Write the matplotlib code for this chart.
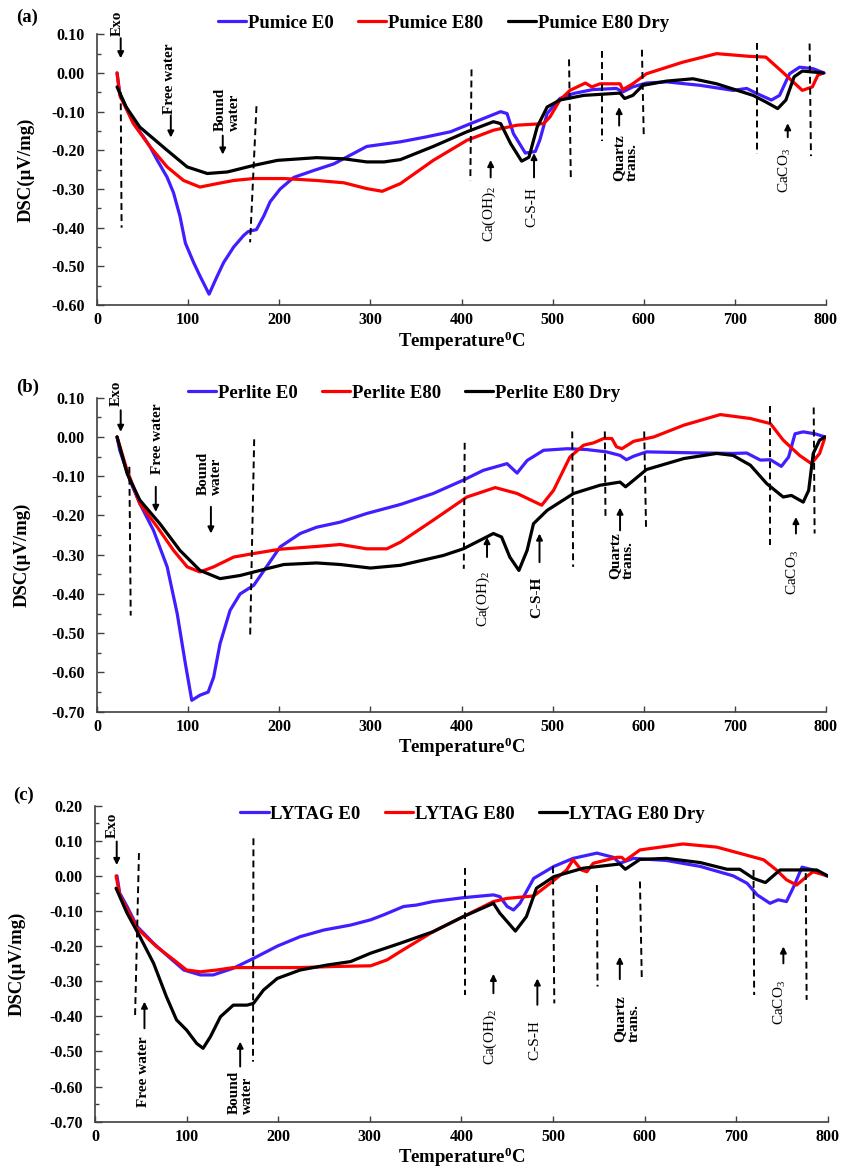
import matplotlib
matplotlib.use("Agg")
import matplotlib.pyplot as plt
from matplotlib.ticker import MultipleLocator

plt.rcParams['font.family'] = ['Liberation Serif', 'DejaVu Serif']
plt.rcParams['font.weight'] = 'bold'
plt.rcParams['mathtext.fontset'] = 'custom'
plt.rcParams['mathtext.rm'] = 'Liberation Serif'
plt.rcParams['mathtext.bf'] = 'Liberation Serif:bold'
plt.rcParams['mathtext.it'] = 'Liberation Serif:italic'

BLUE = '#3F1FFF'
RED = '#FF0000'
BLACK = '#000000'

# ---------------- (a) Pumice ----------------
pumice_E0_T = [22, 25, 40, 51, 58, 66, 77, 84, 91, 97, 106, 113, 123, 131, 139, 150, 161, 166, 175, 183,
               190, 201, 216, 238, 260, 296, 333, 362, 388, 410, 443, 450, 457, 470, 481, 486, 494, 508, 523, 544,
               570, 577, 588, 603, 625, 662, 698, 713, 724, 740, 749, 760, 771, 786, 798]
pumice_E0 = [0, -0.053, -0.13, -0.165, -0.19, -0.225, -0.27, -0.31, -0.37, -0.44, -0.49, -0.525, -0.572, -0.53, -0.49,
             -0.45, -0.42, -0.41, -0.405, -0.37, -0.333, -0.30, -0.27, -0.252, -0.235, -0.19, -0.178, -0.165, -0.152,
             -0.131, -0.10, -0.105, -0.157, -0.207, -0.203, -0.173, -0.105, -0.066, -0.053, -0.043, -0.04, -0.049,
             -0.036, -0.026, -0.023, -0.032, -0.045, -0.04, -0.053, -0.07, -0.058, -0.002, 0.015, 0.011, 0]
pumice_E80_T = [22, 25, 40, 58, 77, 95, 113, 132, 150, 172, 205, 241, 271, 296, 313, 333, 369, 406, 435, 461,
                490, 497, 508, 519, 536, 543, 552, 574, 577, 588, 603, 643, 680, 716, 734, 752, 774, 785, 791, 797]
pumice_E80 = [0, -0.058, -0.131, -0.19, -0.243, -0.278, -0.295, -0.286, -0.278, -0.273, -0.273, -0.278, -0.284,
              -0.299, -0.306, -0.286, -0.226, -0.174, -0.148, -0.135, -0.131, -0.114, -0.07, -0.045, -0.026, -0.036,
              -0.028, -0.028, -0.043, -0.028, -0.002, 0.028, 0.05, 0.043, 0.041, 0.003, -0.045, -0.036, -0.006, 0]
pumice_E80dry_T = [22, 32, 47, 77, 99, 121, 143, 172, 198, 241, 271, 296, 315, 333, 369, 406, 435, 443, 454, 466,
                   474, 483, 494, 508, 534, 574, 579, 588, 599, 625, 654, 680, 720, 734, 747, 756, 765, 774, 797]
pumice_E80dry = [-0.036, -0.088, -0.14, -0.2, -0.243, -0.26, -0.256, -0.239, -0.226, -0.219, -0.222, -0.23, -0.23,
                 -0.224, -0.19, -0.152, -0.126, -0.131, -0.183, -0.228, -0.218, -0.14, -0.088, -0.07, -0.058, -0.052,
                 -0.066, -0.058, -0.032, -0.021, -0.015, -0.028, -0.058, -0.075, -0.092, -0.07, -0.01, 0.005, 0]

# ---------------- (b) Perlite ----------------
perlite_E0_T = [22, 25, 36, 47, 62, 77, 88, 97, 104, 113, 122, 128, 135, 146, 157, 172, 186, 201, 223, 241,
                267, 296, 333, 369, 402, 424, 450, 461, 472, 490, 516, 537, 559, 574, 581, 589, 603, 644, 698, 713,
                728, 739, 751, 759, 766, 775, 788, 799]
perlite_E0 = [0, -0.034, -0.11, -0.17, -0.238, -0.331, -0.45, -0.578, -0.671, -0.658, -0.65, -0.612, -0.527, -0.442,
              -0.40, -0.378, -0.331, -0.28, -0.246, -0.23, -0.217, -0.195, -0.172, -0.144, -0.11, -0.085, -0.068,
              -0.092, -0.06, -0.034, -0.03, -0.032, -0.038, -0.047, -0.058, -0.049, -0.038, -0.04, -0.042, -0.041,
              -0.059, -0.058, -0.075, -0.051, 0.008, 0.013, 0.008, 0]
perlite_E80_T = [22, 33, 47, 66, 84, 99, 113, 128, 150, 172, 201, 241, 267, 296, 318, 333, 369, 406, 437, 461,
                 488, 501, 519, 534, 545, 556, 565, 570, 576, 589, 611, 644, 684, 717, 739, 753, 771, 784, 793, 799]
perlite_E80 = [0, -0.085, -0.17, -0.229, -0.289, -0.331, -0.344, -0.331, -0.306, -0.297, -0.286, -0.279, -0.274,
               -0.285, -0.285, -0.268, -0.212, -0.153, -0.129, -0.144, -0.174, -0.136, -0.051, -0.021, -0.015, -0.004,
               -0.004, -0.025, -0.03, -0.011, 0, 0.03, 0.057, 0.047, 0.034, -0.008, -0.047, -0.068, -0.042, 0]
perlite_E80dry_T = [22, 33, 47, 69, 91, 113, 135, 157, 179, 205, 241, 267, 300, 333, 380, 402, 435, 444, 453, 463,
                    472, 479, 494, 523, 552, 574, 580, 589, 603, 644, 680, 698, 717, 735, 753, 762, 775, 781, 786, 793,
                    799]
perlite_E80dry = [0, -0.093, -0.161, -0.221, -0.289, -0.34, -0.361, -0.353, -0.34, -0.325, -0.321, -0.325, -0.334,
                  -0.327, -0.302, -0.285, -0.246, -0.255, -0.306, -0.34, -0.289, -0.221, -0.187, -0.144, -0.123,
                  -0.115, -0.127, -0.11, -0.083, -0.055, -0.042, -0.047, -0.072, -0.119, -0.153, -0.149, -0.166,
                  -0.136, -0.042, -0.008, 0]

# ---------------- (c) LYTAG ----------------
lytag_E0_T = [24, 27, 35, 46, 64, 78, 97, 115, 129, 151, 173, 199, 224, 250, 279, 301, 315, 337, 351, 369,
              402, 435, 442, 450, 457, 464, 479, 501, 522, 548, 566, 573, 588, 624, 661, 697, 712, 723, 737, 746,
              755, 763, 772, 784, 799]
lytag_E0 = [0, -0.049, -0.087, -0.144, -0.192, -0.225, -0.268, -0.282, -0.282, -0.263, -0.235, -0.2, -0.173, -0.154,
            -0.14, -0.125, -0.111, -0.087, -0.083, -0.073, -0.062, -0.054, -0.059, -0.087, -0.097, -0.078, -0.007,
            0.027, 0.05, 0.065, 0.053, 0.036, 0.05, 0.044, 0.027, 0, -0.021, -0.054, -0.078, -0.068, -0.073, -0.03,
            0.025, 0.017, 0]
lytag_E80_T = [23, 27, 46, 67, 86, 100, 115, 133, 151, 188, 224, 261, 301, 319, 333, 369, 402, 435, 450, 479,
               497, 515, 522, 531, 537, 544, 570, 575, 579, 595, 642, 679, 730, 744, 755, 766, 777, 784, 800]
lytag_E80 = [0, -0.054, -0.149, -0.201, -0.239, -0.268, -0.273, -0.268, -0.261, -0.261, -0.261, -0.258, -0.256,
             -0.239, -0.216, -0.159, -0.116, -0.073, -0.064, -0.057, -0.021, 0.017, 0.046, 0.017, 0.012, 0.036, 0.053,
             0.053, 0.044, 0.074, 0.091, 0.082, 0.046, 0.017, -0.011, -0.026, -0.002, 0.012, 0]
lytag_E80dry_T = [23, 35, 49, 64, 78, 89, 100, 111, 118, 126, 137, 151, 166, 173, 184, 199, 224, 253, 279, 301,
                  333, 369, 402, 435, 442, 459, 471, 482, 501, 533, 573, 579, 595, 624, 661, 690, 704, 719, 732, 748,
                  788, 800]
lytag_E80dry = [-0.035, -0.106, -0.173, -0.249, -0.344, -0.41, -0.439, -0.477, -0.491, -0.458, -0.401, -0.368,
                -0.368, -0.363, -0.325, -0.292, -0.268, -0.254, -0.244, -0.22, -0.192, -0.159, -0.116, -0.078, -0.106,
                -0.157, -0.116, -0.035, -0.002, 0.022, 0.034, 0.019, 0.047, 0.05, 0.038, 0.019, 0.019, -0.007, -0.019,
                0.017, 0.017, 0]

labels_a = ['Pumice E0', 'Pumice E80', 'Pumice E80 Dry']
labels_b = ['Perlite E0', 'Perlite E80', 'Perlite E80 Dry']
labels_c = ['LYTAG E0', 'LYTAG E80', 'LYTAG E80 Dry']

# dashed guide lines: ((T0, v0), (T1, v1))
dashes_a = [((26, -0.05), (27, -0.40)), ((175, -0.086), (168, -0.438)), ((411, 0.009), (409.7, -0.278)),
            ((518, 0.035), (520, -0.278)), ((553.7, 0.057), (553.7, -0.175)), ((598, 0.06), (600, -0.162)),
            ((724.5, 0.078), (724.5, -0.21)), ((782, 0.076), (783.5, -0.215))]
dashes_b = [((35.5, -0.076), (37, -0.455)), ((172.5, -0.006), (168, -0.514)), ((403.5, -0.015), (402.5, -0.336)),
            ((521.5, 0.014), (522.5, -0.331)), ((557.3, 0.014), (558, -0.204)), ((600.5, 0.014), (602.5, -0.229)),
            ((738, 0.078), (738, -0.276)), ((786.5, 0.075), (787.5, -0.246))]
dashes_c = [((48, 0.065), (43.7, -0.405)), ((173, 0.107), (172.5, -0.529)), ((404, 0.022), (404, -0.339)),
            ((500, 0.027), (501.5, -0.363)), ((548, -0.026), (548.7, -0.315)), ((595, -0.016), (597, -0.292)),
            ((719, 0.017), (719.7, -0.339)), ((776, 0.008), (777, -0.353))]

# annotations: (text, T, v, bold, arrow tail (T, v), arrow head (T, v))
CAOH = r'Ca(OH)$_\mathregular{2}$'
CACO = r'CaCO$_\mathregular{3}$'
notes_a = [('Exo', 22, 0.128, True, (26, 0.09), (26, 0.038)),
           ('Free water', 80, -0.016, True, (81, -0.11), (81, -0.167)),
           ('Bound\nwater', 143, -0.094, True, (138, -0.162), (138, -0.211)),
           (CAOH, 430, -0.364, False, (432, -0.27), (432, -0.225)),
           ('C-S-H', 477, -0.346, False, (479.6, -0.27), (479.6, -0.207)),
           ('Quartz\ntrans.', 580.5, -0.218, True, (573, -0.136), (573, -0.088)),
           (CACO, 754.5, -0.252, False, (758, -0.166), (758, -0.13))]
notes_b = [('Exo', 21.6, 0.112, True, (26, 0.068), (26, 0.013)),
           ('Free water', 66.7, -0.005, True, (64.5, -0.127), (64.5, -0.191)),
           ('Bound\nwater', 124, -0.092, True, (125, -0.178), (125, -0.246)),
           (CAOH, 424, -0.412, False, (428, -0.306), (428, -0.255)),
           ('C-S-H', 482.6, -0.408, True, (485.6, -0.319), (485.6, -0.246)),
           ('Quartz\ntrans.', 576, -0.302, True, (574, -0.238), (574, -0.18)),
           (CACO, 764, -0.344, False, (767, -0.246), (767, -0.204))]
notes_c = [('Exo', 19.3, 0.145, True, (23.7, 0.098), (23.7, 0.031)),
           ('Free water', 52.8, -0.557, True, (54, -0.434), (54, -0.358)),
           ('Bound\nwater', 159.6, -0.617, True, (158.5, -0.543), (158.5, -0.472)),
           (CAOH, 432, -0.46, False, (435, -0.334), (435, -0.279)),
           ('C-S-H', 480.4, -0.468, False, (483, -0.367), (483, -0.292)),
           ('Quartz\ntrans.', 581, -0.406, True, (573, -0.294), (573, -0.23)),
           (CACO, 748, -0.36, False, (751.6, -0.249), (751.6, -0.201))]

W, H = 842, 1171
fig = plt.figure(figsize=(W / 100, H / 100), dpi=100)


def px_axes(left, top, right, bottom):
    return fig.add_axes([left / W, 1 - bottom / H, (right - left) / W, (bottom - top) / H])


def draw(ax, series, labels, ylim, yticks, dash_list, notes, leg_xy, ylab_x):
    lines = []
    for (T, V), color, lab in zip(series, [BLUE, RED, BLACK], labels):
        ln, = ax.plot(T, V, color=color, lw=2.3, solid_joinstyle='round', solid_capstyle='round', label=lab)
        lines.append(ln)
    for (p0, p1) in dash_list:
        ax.plot([p0[0], p1[0]], [p0[1], p1[1]], color='black', lw=1.4, linestyle=(0, (3.5, 2.2)), clip_on=False)
    for text, tx, ty, bold, tail, head in notes:
        ax.text(tx, ty, text, rotation=90, ha='center', va='center', multialignment='left',
                fontsize=11, fontweight='bold' if bold else 'normal', linespacing=1.05, clip_on=False)
        ax.annotate('', xy=head, xytext=tail, annotation_clip=False,
                    arrowprops=dict(arrowstyle='-|>', color='black', lw=1.4, mutation_scale=9,
                                    shrinkA=0, shrinkB=0))
    ax.set_xlim(0, 800)
    ax.set_ylim(*ylim)
    ax.xaxis.set_major_locator(MultipleLocator(100))
    ax.set_yticks(yticks)
    ax.yaxis.set_minor_locator(MultipleLocator(0.05))
    ax.set_yticklabels(['%.2f' % t for t in yticks])
    for s in ['top', 'right']:
        ax.spines[s].set_visible(False)
    for s in ['left', 'bottom']:
        ax.spines[s].set_color('#404040')
        ax.spines[s].set_linewidth(1.2)
    ax.tick_params(axis='y', which='major', direction='in', length=5, width=1, color='#404040', pad=9,
                   labelsize=11.5)
    ax.tick_params(axis='y', which='minor', direction='in', length=3, width=1, color='#404040')
    ax.tick_params(axis='x', which='major', direction='in', length=4, width=1, color='#404040', pad=5,
                   labelsize=11.5)
    for t in ax.get_xticklabels() + ax.get_yticklabels():
        t.set_fontweight('bold')
    ax.set_xlabel(r'Temperature$^\mathregular{0}$C', fontsize=13.5, fontweight='bold', labelpad=1)
    ax.set_ylabel('DSC(µV/mg)', fontsize=13.5, fontweight='bold')
    ax.yaxis.set_label_coords(ylab_x, 0.5)
    fig.legend(lines, labels, loc='center', bbox_to_anchor=leg_xy, ncol=3, frameon=False,
               prop={'family': 'Liberation Serif', 'weight': 'bold', 'size': 13.5},
               handlelength=1.5, handletextpad=0.1, columnspacing=1.3, borderpad=0)


ax_a = px_axes(97, 34.3, 826, 305)
draw(ax_a, [(pumice_E0_T, pumice_E0), (pumice_E80_T, pumice_E80), (pumice_E80dry_T, pumice_E80dry)],
     labels_a, (-0.6, 0.1), [0.10, 0.00, -0.10, -0.20, -0.30, -0.40, -0.50, -0.60], dashes_a, notes_a,
     (443.5 / W, 1 - 23 / H), -62 / 729)

ax_b = px_axes(97, 397.7, 826, 711.7)
draw(ax_b, [(perlite_E0_T, perlite_E0), (perlite_E80_T, perlite_E80), (perlite_E80dry_T, perlite_E80dry)],
     labels_b, (-0.7, 0.1), [0.10, 0.00, -0.10, -0.20, -0.30, -0.40, -0.50, -0.60, -0.70], dashes_b, notes_b,
     (404 / W, 1 - 393 / H), -66 / 729)

ax_c = px_axes(95, 805.7, 827.7, 1121.7)
draw(ax_c, [(lytag_E0_T, lytag_E0), (lytag_E80_T, lytag_E80), (lytag_E80dry_T, lytag_E80dry)],
     labels_c, (-0.7, 0.2), [0.20, 0.10, 0.00, -0.10, -0.20, -0.30, -0.40, -0.50, -0.60, -0.70], dashes_c, notes_c,
     (472.5 / W, 1 - 814 / H), -69 / 732.7)

fig.text(16 / W, 1 - 17 / H, '(a)', fontsize=13.5, fontweight='bold', ha='left', va='center')
fig.text(16 / W, 1 - 387 / H, '(b)', fontsize=13.5, fontweight='bold', ha='left', va='center')
fig.text(13 / W, 1 - 795 / H, '(c)', fontsize=13.5, fontweight='bold', ha='left', va='center')

fig.savefig('out.png', dpi=100)
